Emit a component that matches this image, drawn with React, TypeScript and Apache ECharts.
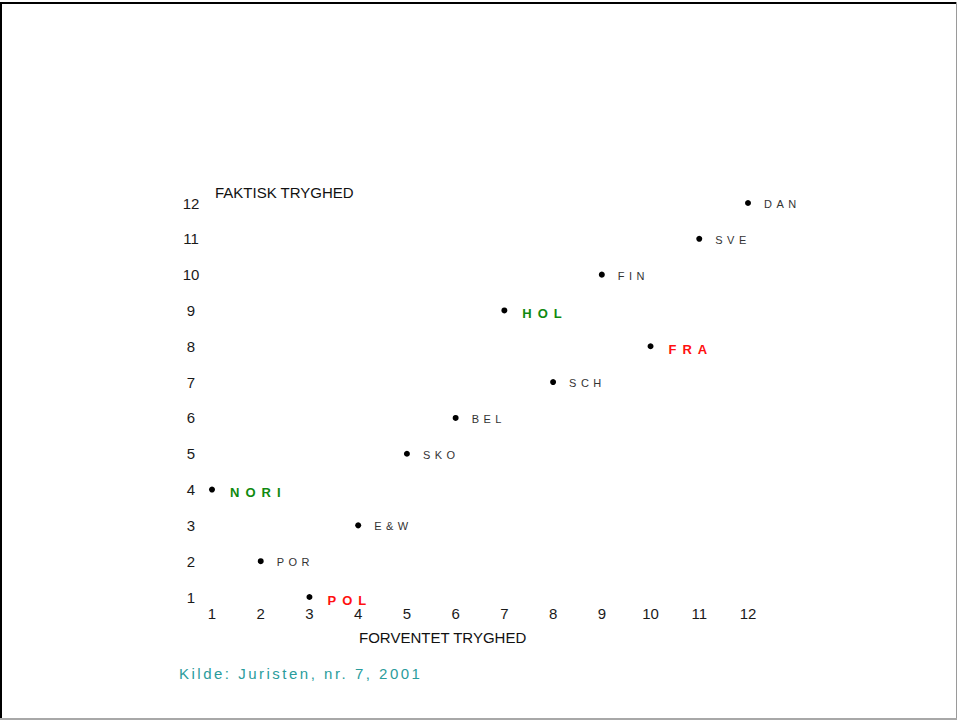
import React, { useEffect, useRef } from "react";
import * as echarts from "echarts";

// Data
const countries = ["NORI", "POR", "POL", "E&W", "SKO", "BEL", "HOL", "SCH", "FIN", "FRA", "SVE", "DAN"];
const forventet = [1, 2, 3, 4, 5, 6, 7, 8, 9, 10, 11, 12];
const faktisk = [4, 2, 1, 3, 5, 6, 9, 7, 10, 8, 11, 12];
const greenCountries = ["NORI", "HOL"];
const redCountries = ["POL", "FRA"];
const xAxisTitle = "FORVENTET TRYGHED";
const yAxisTitle = "FAKTISK TRYGHED";
const sourceText = "Kilde: Juristen, nr. 7, 2001";

const FONT = "'Liberation Sans', Arial, sans-serif";

export default function App() {
  const ref = useRef<HTMLDivElement>(null);

  useEffect(() => {
    if (!ref.current) return;
    const chart = echarts.init(ref.current, null, { renderer: "svg" });

    const data = countries.map((name, i) => {
      const green = greenCountries.includes(name);
      const red = redCountries.includes(name);
      const hi = green || red;
      return {
        name,
        value: [forventet[i], faktisk[i]],
        label: {
          show: true,
          position: "right",
          distance: hi ? 15 : 13,
          formatter: name,
          color: green ? "#108a10" : red ? "#ff1010" : "#333333",
          fontSize: hi ? 13 : 11,
          fontWeight: hi ? "bold" : "normal",
          fontFamily: FONT,
          opacity: 1,
          offset: hi ? [0, 3] : [0, 1],
        },
      };
    });

    const option = {
      animation: false,
      backgroundColor: "#ffffff",
      grid: { left: 212, top: 203, width: 536, height: 394, containLabel: false },
      xAxis: {
        type: "value",
        min: 1,
        max: 12,
        interval: 1,
        axisLine: { show: false },
        axisTick: { show: false },
        splitLine: { show: false },
        axisLabel: { color: "#1a1a1a", fontSize: 15, fontFamily: FONT, margin: 9 },
      },
      yAxis: {
        type: "value",
        min: 1,
        max: 12,
        interval: 1,
        axisLine: { show: false },
        axisTick: { show: false },
        splitLine: { show: false },
        axisLabel: { color: "#1a1a1a", fontSize: 15, fontFamily: FONT, margin: 21, align: "center" },
      },
      series: [
        {
          type: "scatter",
          symbol: "circle",
          symbolSize: 6,
          itemStyle: { color: "#000000", opacity: 1 },
          emphasis: { disabled: true },
          data,
        },
      ],
      graphic: [
        { type: "rect", shape: { x: 0, y: 2, width: 957, height: 2 }, style: { fill: "#000000" } },
        { type: "rect", shape: { x: 0, y: 2, width: 2, height: 718 }, style: { fill: "#000000" } },
        { type: "rect", shape: { x: 956, y: 2, width: 1, height: 718 }, style: { fill: "#9a9a9a" } },
        { type: "rect", shape: { x: 0, y: 718, width: 957, height: 2 }, style: { fill: "#a8a8a8" } },
        {
          type: "text",
          x: 215,
          y: 192,
          style: { text: yAxisTitle, fill: "#111111", fontSize: 15, fontFamily: FONT, verticalAlign: "middle", align: "left" },
        },
        {
          type: "text",
          x: 359,
          y: 637,
          style: { text: xAxisTitle, fill: "#111111", fontSize: 15, fontFamily: FONT, verticalAlign: "middle", align: "left" },
        },
        {
          type: "text",
          x: 179,
          y: 673,
          style: { text: sourceText, fill: "#2a9c9c", fontSize: 15, fontFamily: FONT, verticalAlign: "middle", align: "left" },
        },
      ],
    };

    chart.setOption(option as any);

    const spacingFor = (t: string): number | null => {
      if (t === sourceText) return 2.5;
      if (greenCountries.includes(t) || redCountries.includes(t)) return 6;
      if (countries.includes(t)) return 4.5;
      return null;
    };
    const apply = () => {
      const el = ref.current;
      if (!el) return;
      el.querySelectorAll("text").forEach((t) => {
        const s = spacingFor((t.textContent || "").trim());
        if (s != null) t.setAttribute("letter-spacing", String(s));
      });
    };
    apply();
    chart.on("finished", apply);

    return () => {
      chart.dispose();
    };
  }, []);

  return (
    <div
      ref={ref}
      style={{ position: "fixed", left: 0, top: 0, width: 957, height: 720, background: "#ffffff" }}
    />
  );
}
